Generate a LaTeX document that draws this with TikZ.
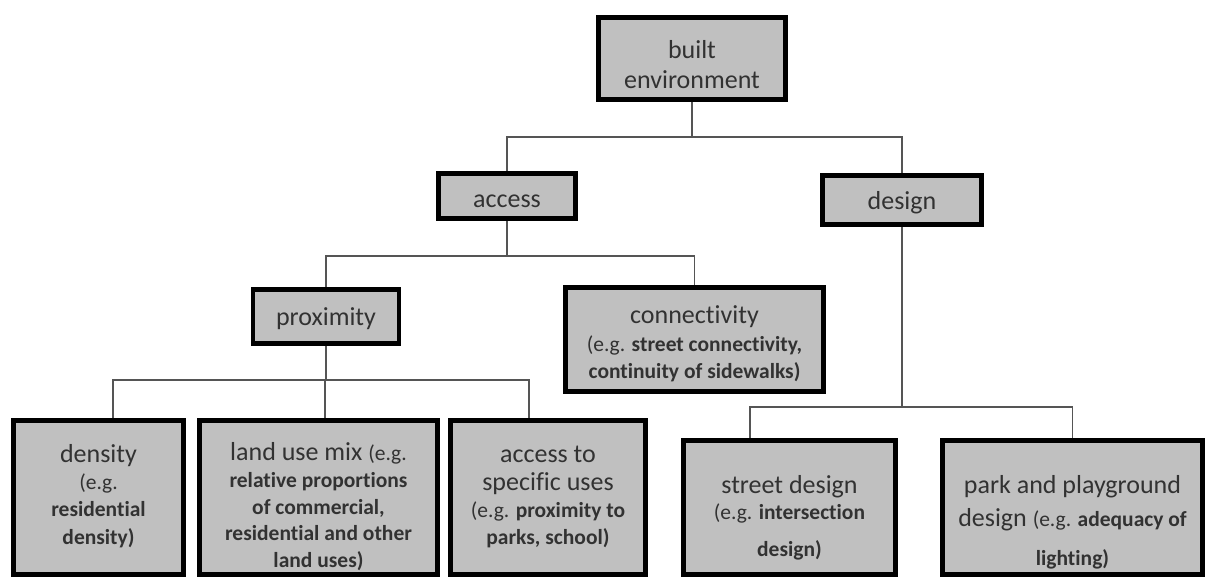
\documentclass[tikz,border=0pt]{standalone}
\usepackage{fontspec}
\setmainfont{Carlito}[Ligatures=NoCommon]
\usepackage{tikz}
\usetikzlibrary{positioning,backgrounds}
\definecolor{boxgray}{RGB}{192,192,192}
\definecolor{inkgray}{RGB}{50,50,50}
\definecolor{linegray}{RGB}{85,85,85}
\newcommand{\subfont}{\fontsize{10.75}{13.75}\selectfont}
\newcommand{\eg}{{\subfont(e.g.}}
\newcommand{\example}[1]{{\subfont(e.g. \bfseries #1}}
\newcommand{\detail}[1]{{\subfont\bfseries #1}}
\newcommand{\topstrut}[1]{\rule{0pt}{#1}}
\tikzset{
  category/.style={
    rectangle,
    draw=black,
    line width=2.4pt,
    fill=boxgray,
    text=inkgray,
    align=center,
    inner sep=0pt,
    font=\fontsize{13}{13.75}\selectfont
    },
  leaftext/.style={
    align=center,
    inner sep=0pt,
    text=inkgray,
    font=\fontsize{13}{13.6}\selectfont
    },
  link/.style={draw=linegray, line width=0.8pt},
}

\begin{document}
\begin{tikzpicture}[x=0.5pt,y=0.5pt]
\useasboundingbox (0,0) rectangle (1206,-577);
\node (built) [category, minimum width=93.5pt, minimum height=41pt] at (692,-58.5) {\topstrut{15pt}built\\[1pt]environment};
\node (access) [category, minimum width=68.5pt, minimum height=22.5pt] at (507,-196) {\topstrut{12pt}access};
\node (design) [category, minimum width=79.5pt, minimum height=24.5pt] at (902,-200) {\topstrut{12pt}design};
\node (proximity) [category, minimum width=73pt, minimum height=27pt] at (326,-316.5) {\topstrut{11pt}proximity};
\node (connectivity) [category, minimum width=129pt, minimum height=52pt] at (694.5,-339.5) {\topstrut{13.5pt}connectivity\\\example{street connectivity,}\\\detail{continuity of sidewalks)}};

\node (density) [category, minimum width=85pt, minimum height=77pt] at (98.5,-497.5) {};
\node (landuse) [category, minimum width=119pt, minimum height=77pt] at (318.5,-497.5) {};
\node (specific) [category, minimum width=97.5pt, minimum height=77pt] at (548,-497.5) {};
\node (street) [category, minimum width=106pt, minimum height=67pt] at (789.5,-507.5) {};
\node (park) [category, minimum width=130pt, minimum height=67pt] at (1072.5,-507.5) {};

\node (densitytext) [leaftext, below=13pt of density.north] {density\\\eg\\\detail{residential}\\\detail{density)}};
\node (landusetext) [leaftext, below=12pt of landuse.north, font=\fontsize{13}{13.4}\selectfont] {land use mix \eg\\\detail{relative proportions}\\\detail{of commercial,}\\\detail{residential and other}\\\detail{land uses)}};
\node (specifictext) [leaftext, below=14pt of specific.north] {access to\\specific uses\\\example{proximity to}\\\detail{parks, school)}};
\node (streettext) [leaftext, below=18.5pt of street.north, font=\fontsize{13}{16.5}\selectfont] {street design\\[-3.5pt]\example{intersection}\\[2pt]\detail{design)}};
\node (parktext) [leaftext, below=18.5pt of park.north, font=\fontsize{13}{18}\selectfont] {park and playground\\[-1.5pt]design \example{adequacy of}\\[1.5pt]\detail{lighting)}};

\coordinate (busA) at (0,-137);
\coordinate (busB) at (0,-256);
\coordinate (busC) at (0,-380);
\coordinate (busD) at (0,-407);

\begin{scope}[on background layer]
\draw[link] (built.south) -- (built.south |- busA) -| (access.north);
\draw[link] (built.south |- busA) -| (design.north);
\draw[link] (access.south) -- (access.south |- busB) -| (proximity.north);
\draw[link] (access.south |- busB) -| (connectivity.north);
\draw[link] (proximity.south) -- (proximity.south |- busC) -| ([xshift=7.25pt]density.north);
\draw[link] (proximity.south |- busC) -| ([xshift=-0.5pt]landuse.north -| proximity.south);
\draw[link] (proximity.south |- busC) -| ([xshift=-9.5pt]specific.north);
\draw[link] (design.south) -- (design.south |- busD) -| ([xshift=-19.75pt]street.north);
\draw[link] (design.south |- busD) -| (park.north);
\end{scope}
\end{tikzpicture}
\end{document}
